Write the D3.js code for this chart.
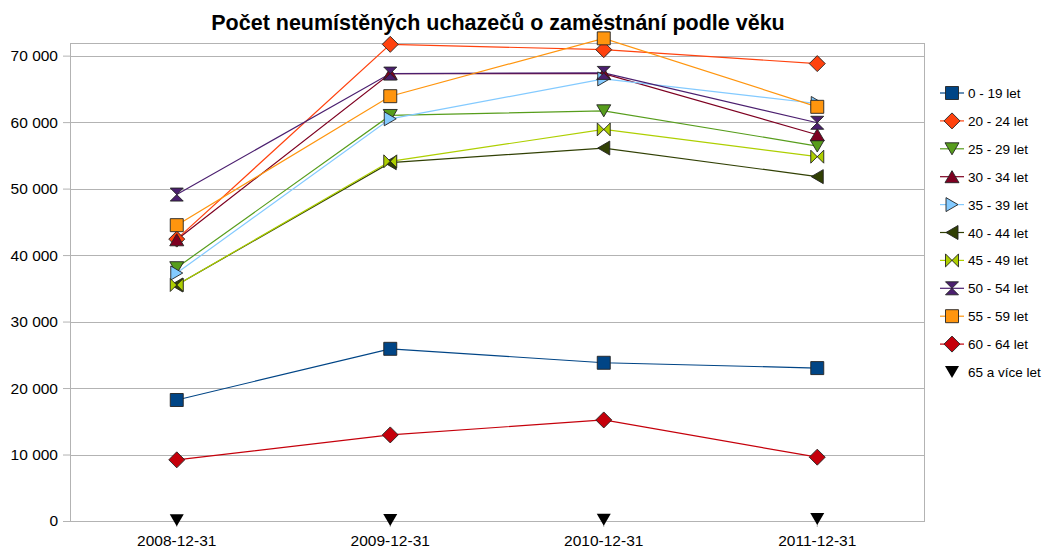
<!DOCTYPE html>
<html>
<head>
<meta charset="utf-8">
<title>Počet neumístěných uchazečů</title>
<script src="https://d3js.org/d3.v7.min.js"></script>
<style>
  body { margin: 0; background: #fff; }
  text { font-family: "Liberation Sans", Arial, sans-serif; fill: #000; }
</style>
</head>
<body>
<svg id="chart" width="1043" height="549"></svg>
<script>
const dates = ["2008-12-31", "2009-12-31", "2010-12-31", "2011-12-31"];
const groups = ["0 - 19 let", "20 - 24 let", "25 - 29 let", "30 - 34 let", "35 - 39 let",
  "40 - 44 let", "45 - 49 let", "50 - 54 let", "55 - 59 let", "60 - 64 let", "65 a více let"];
const values = [
  [18200, 25900, 23800, 23000],
  [42400, 71700, 70900, 68800],
  [38100, 61000, 61700, 56400],
  [42300, 67300, 67300, 58100],
  [37300, 60500, 66500, 62800],
  [35500, 53900, 56100, 51800],
  [35500, 54100, 58900, 54800],
  [49100, 67300, 67400, 59900],
  [44500, 63900, 72600, 62300],
  [9200, 12950, 15200, 9600],
  [100, 150, 200, 300]
];
const colors = ["#004586", "#ff420e", "#579d1c", "#7e0021", "#83caff", "#314004",
  "#aecf00", "#4b1f6f", "#ff950e", "#c5000b", "#000000"];
const shapes = ["square", "diamond", "down", "up", "right", "left", "bowtieH", "bowtieV", "square", "diamond", "down"];
const yTicks = [0, 10000, 20000, 30000, 40000, 50000, 60000, 70000];

const svg = d3.select("#chart");
const margin = {top: 43, left: 70, right: 119, bottom: 28};
const width = 1043 - margin.left - margin.right;
const height = 549 - margin.top - margin.bottom;

const x = d3.scaleBand().domain(dates).range([0, width]);
const y = d3.scaleLinear().domain([0, 71900]).range([height, 0]);

function shapePath(kind) {
  switch (kind) {
    case "square": return "M-6.5,-6.5H6.5V6.5H-6.5Z";
    case "diamond": return "M0,-8L8,0L0,8L-8,0Z";
    case "down": return "M-7,-6H7L0,6Z";
    case "up": return "M-7,6H7L0,-6Z";
    case "right": return "M-6,-7V7L6,0Z";
    case "left": return "M6,-7V7L-6,0Z";
    case "bowtieH": return "M-6.5,-6.5L6.5,6.5V-6.5L-6.5,6.5Z";
    case "bowtieV": return "M-6.5,-6.5H6.5L-6.5,6.5H6.5Z";
  }
}

svg.append("text")
  .attr("x", 498).attr("y", 30)
  .attr("text-anchor", "middle")
  .style("font-size", "21.5px").style("font-weight", "bold")
  .text("Počet neumístěných uchazečů o zaměstnání podle věku");

const g = svg.append("g").attr("transform", `translate(${margin.left},${margin.top})`);

// grid
g.selectAll(".grid").data(yTicks).enter().append("line")
  .attr("x1", 0).attr("x2", width)
  .attr("y1", d => Math.round(y(d)) + 0.5).attr("y2", d => Math.round(y(d)) + 0.5)
  .attr("stroke", "#b3b3b3");
g.append("rect").attr("x", 0.5).attr("y", 0.5).attr("width", width).attr("height", height)
  .attr("fill", "none").attr("stroke", "#b3b3b3");

// axes
const yAxis = d3.axisLeft(y).tickValues(yTicks).tickSize(7).tickPadding(5)
  .tickFormat(d => d3.format(",")(d).replace(/,/g, " "));
const ya = g.append("g").call(yAxis);
ya.select(".domain").remove();
ya.selectAll("line").attr("stroke", "#b3b3b3");
ya.selectAll("text").style("font-size", "15.5px");

const xAxis = d3.axisBottom(x).tickSize(6).tickPadding(8);
const xa = g.append("g").attr("transform", `translate(0,${height})`).call(xAxis);
xa.select(".domain").remove();
xa.selectAll("line").attr("stroke", "#b3b3b3");
xa.selectAll("text").style("font-size", "15.5px");

const line = d3.line()
  .x((d, i) => x(dates[i]) + x.bandwidth() / 2)
  .y(d => y(d));

groups.forEach((name, k) => {
  if (k < 10) {
    g.append("path").datum(values[k])
      .attr("d", line).attr("fill", "none")
      .attr("stroke", colors[k]).attr("stroke-width", 1.2);
  }
});
groups.forEach((name, k) => {
  g.selectAll(null).data(values[k]).enter().append("path")
    .attr("transform", (d, i) => `translate(${x(dates[i]) + x.bandwidth() / 2},${y(d)})`)
    .attr("d", shapePath(shapes[k]))
    .attr("fill", colors[k])
    .attr("stroke", k === 10 ? "none" : "#222")
    .attr("stroke-width", 0.9);
});

// legend
const legend = svg.append("g").selectAll("g").data(groups).enter().append("g")
  .attr("transform", (d, i) => `translate(952,${93 + i * 27.9})`);
legend.filter((d, i) => i < 10).append("line")
  .attr("x1", -12).attr("x2", 12)
  .attr("stroke", (d, i) => colors[i]).attr("stroke-width", 1.2);
legend.append("path")
  .attr("d", (d, i) => shapePath(shapes[i]))
  .attr("fill", (d, i) => colors[i])
  .attr("stroke", (d, i) => i === 10 ? "none" : "#222")
  .attr("stroke-width", 0.9);
legend.append("text")
  .attr("x", 16).attr("y", 5)
  .style("font-size", "13.5px")
  .text(d => d);
</script>
</body>
</html>
